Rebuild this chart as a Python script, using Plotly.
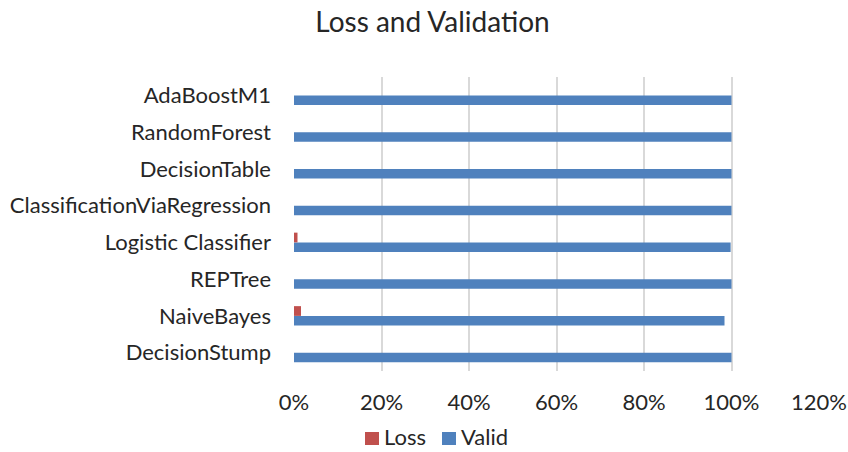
import plotly.graph_objects as go

categories = ["DecisionStump", "NaiveBayes", "REPTree", "Logistic Classifier",
              "ClassificationViaRegression", "DecisionTable", "RandomForest", "AdaBoostM1"]
loss = [0.0, 1.6, 0.0, 0.8, 0.0, 0.0, 0.0, 0.0]
valid = [100.0, 98.4, 100.0, 99.8, 100.0, 100.0, 100.0, 100.0]
x_ticks = [0, 20, 40, 60, 80, 100, 120]
x_tick_labels = ["0%", "20%", "40%", "60%", "80%", "100%", "120%"]

FONT = "Lato, Carlito, 'Open Sans', sans-serif"
BLUE = "#4F81BD"
RED = "#C0504D"
TEXT = "#262626"

W, H = 848, 452
ML, MR, MT, MB = 294, 29, 77, 81
PW, PH = W - ML - MR, H - MT - MB


def px_x(px):
    return (px - ML) / PW


def px_y(py):
    return (H - MB - py) / PH


fig = go.Figure()
# Valid added first so it sits below Loss within each category group
fig.add_trace(go.Bar(y=categories, x=valid, name="Valid", orientation="h",
                     marker=dict(color=BLUE, line=dict(width=0))))
fig.add_trace(go.Bar(y=categories, x=loss, name="Loss", orientation="h",
                     marker=dict(color=RED, line=dict(width=0))))

# Legend drawn as swatches + labels below the axis
legend_items = [("Loss", RED, 365), ("Valid", BLUE, 442)]
for label, color, left in legend_items:
    fig.add_shape(type="rect", xref="paper", yref="paper",
                  x0=px_x(left), x1=px_x(left + 14),
                  y0=px_y(445), y1=px_y(432),
                  fillcolor=color, line=dict(width=0))
    fig.add_annotation(text=label, xref="paper", yref="paper",
                       x=px_x(left + 18), y=px_y(451),
                       xanchor="left", yanchor="bottom", showarrow=False,
                       borderpad=0,
                       font=dict(family=FONT, size=22, color=TEXT))

fig.update_layout(
    width=W, height=H,
    margin=dict(l=ML, r=MR, t=MT, b=MB, autoexpand=False),
    paper_bgcolor="white", plot_bgcolor="white",
    barmode="group", bargap=0.47, bargroupgap=0,
    showlegend=False,
    title=dict(text="Loss and Validation", x=0.51, xanchor="center",
               y=0.95, yanchor="middle",
               font=dict(family=FONT, size=28, color=TEXT)),
    font=dict(family=FONT, size=22, color=TEXT),
    xaxis=dict(range=[0, 120], tickvals=x_ticks, ticktext=x_tick_labels,
               showgrid=True, gridcolor="#D9D9D9", gridwidth=2,
               zeroline=False, showline=False, ticks="", automargin=False,
               ticklabelstandoff=16, tickfont=dict(size=22)),
    yaxis=dict(categoryorder="array", categoryarray=categories,
               showgrid=False, zeroline=False, showline=False, ticks="",
               automargin=False, ticklabelstandoff=22, tickfont=dict(size=22)),
)

fig.write_html("out.html")
